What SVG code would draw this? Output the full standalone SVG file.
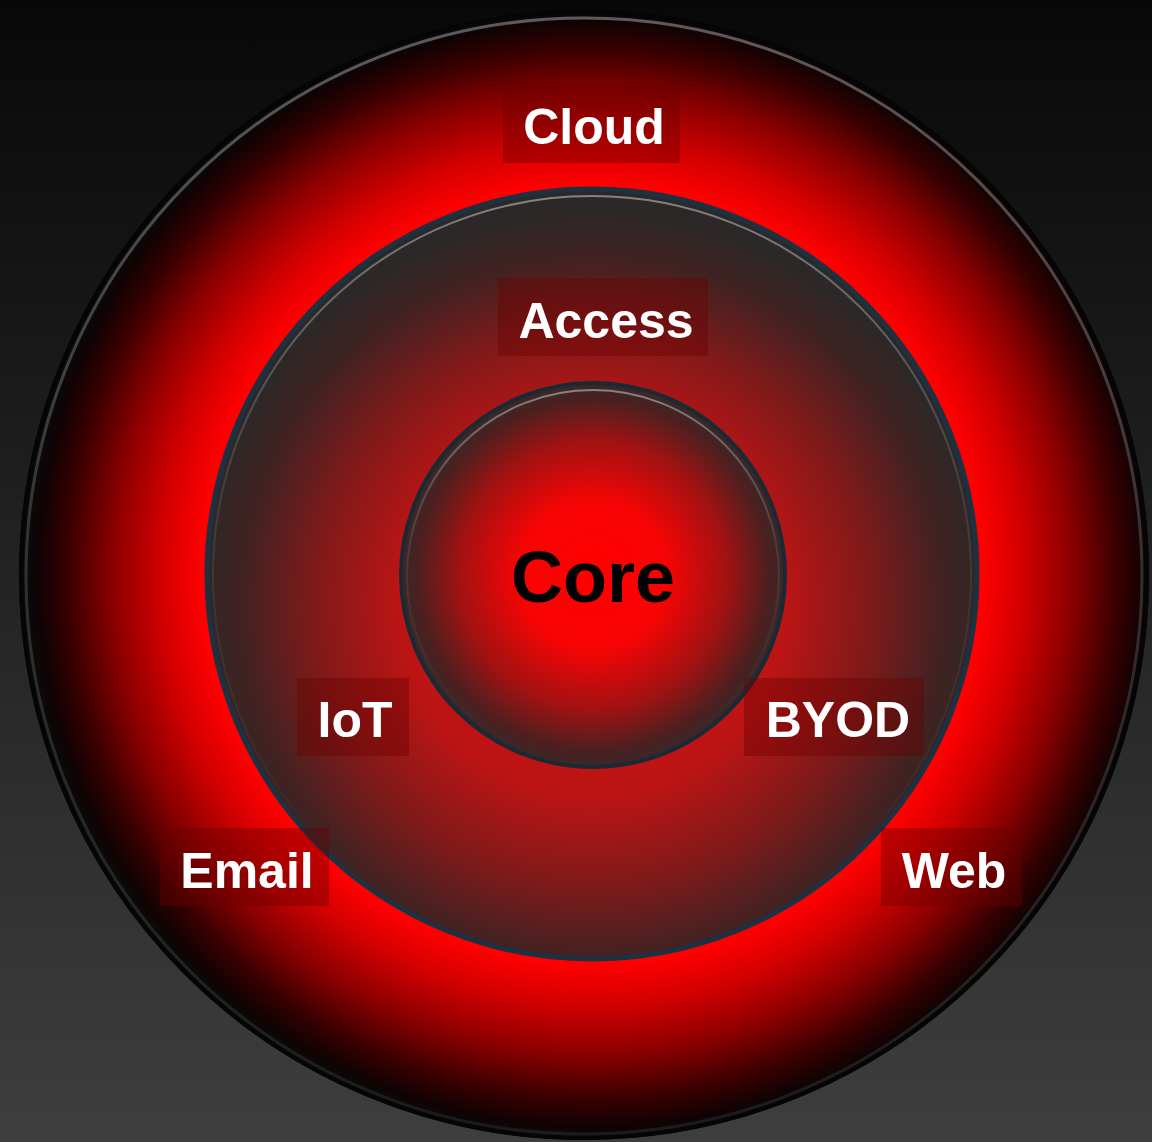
<svg xmlns="http://www.w3.org/2000/svg" width="1152" height="1142" viewBox="0 0 1152 1142">
<defs>
<linearGradient id="bg" x1="0" y1="0" x2="0" y2="1">
<stop offset="0" stop-color="#080808"/>
<stop offset="1" stop-color="#3e3e3e"/>
</linearGradient>
<radialGradient id="outerFill" cx="592" cy="574" r="565" gradientUnits="userSpaceOnUse">
<stop offset="0" stop-color="#ff0000"/>
<stop offset="0.69" stop-color="#ff0000"/>
<stop offset="0.76" stop-color="#d40000"/>
<stop offset="0.85" stop-color="#8a0000"/>
<stop offset="0.93" stop-color="#380000"/>
<stop offset="0.98" stop-color="#100303"/>
<stop offset="1" stop-color="#0a0a0a"/>
</radialGradient>
<linearGradient id="rim" x1="0" y1="0" x2="0" y2="1">
<stop offset="0" stop-color="#707070"/>
<stop offset="0.5" stop-color="#3a3a3a"/>
<stop offset="1" stop-color="#202020"/>
</linearGradient>
<radialGradient id="midFill" cx="592" cy="610" r="400" fx="592" fy="600" gradientUnits="userSpaceOnUse">
<stop offset="0" stop-color="#d01010"/>
<stop offset="0.48" stop-color="#bc1414"/>
<stop offset="0.7" stop-color="#7e1a1a"/>
<stop offset="0.88" stop-color="#402222"/>
<stop offset="1" stop-color="#2c2828"/>
</radialGradient>
<radialGradient id="coreFill" cx="593" cy="575" r="192" gradientUnits="userSpaceOnUse">
<stop offset="0" stop-color="#ff0000"/>
<stop offset="0.38" stop-color="#f80404"/>
<stop offset="0.7" stop-color="#a01212"/>
<stop offset="0.92" stop-color="#4a2020"/>
<stop offset="1" stop-color="#3a2828"/>
</radialGradient>
<linearGradient id="hl" x1="0" y1="0" x2="0" y2="1">
<stop offset="0" stop-color="#9a9a9a" stop-opacity="0.8"/>
<stop offset="0.4" stop-color="#707070" stop-opacity="0.3"/>
<stop offset="1" stop-color="#505050" stop-opacity="0"/>
</linearGradient>
</defs>
<style>
.lbl{font-family:"Liberation Sans",Arial,sans-serif;font-weight:bold;fill:#ffffff;font-size:50px;text-anchor:middle}
.core{font-family:"Liberation Sans",Arial,sans-serif;font-weight:bold;fill:#000000;font-size:72px;text-anchor:middle}
.box{fill:#6a0000;fill-opacity:0.4}
</style>
<rect width="1152" height="1142" fill="url(#bg)"/>
<g id="outer">
<circle cx="584" cy="575" r="565" fill="url(#outerFill)"/>
<circle cx="584" cy="575" r="563" fill="none" stroke="#050505" stroke-width="4"/>
<circle cx="584" cy="576" r="558" fill="none" stroke="url(#rim)" stroke-width="3" opacity="0.8"/>
</g>
<g id="access-ring">
<circle cx="592" cy="574" r="385" fill="url(#midFill)" stroke="#1c3242" stroke-width="5"/>
<circle cx="592" cy="575" r="379" fill="none" stroke="url(#hl)" stroke-width="2"/>
</g>
<g id="core">
<circle cx="593" cy="575" r="192" fill="url(#coreFill)" stroke="#1a2a35" stroke-width="4"/>
<circle cx="593" cy="576" r="186" fill="none" stroke="url(#hl)" stroke-width="2"/>
<text class="core" x="593" y="602">Core</text>
</g>
<g id="cloud">
<rect class="box" x="503" y="85" width="177" height="78"/>
<text class="lbl" x="594" y="144">Cloud</text>
</g>
<g id="access">
<rect class="box" x="498" y="278" width="210" height="78"/>
<text class="lbl" x="606" y="338">Access</text>
</g>
<g id="iot">
<rect class="box" x="297" y="678" width="112" height="78"/>
<text class="lbl" x="355" y="737">IoT</text>
</g>
<g id="byod">
<rect class="box" x="744" y="678" width="180" height="78"/>
<text class="lbl" x="838" y="737">BYOD</text>
</g>
<g id="email">
<rect class="box" x="160" y="828" width="169" height="78"/>
<text class="lbl" x="247" y="888">Email</text>
</g>
<g id="web">
<rect class="box" x="881" y="828" width="141" height="78"/>
<text class="lbl" x="954" y="888">Web</text>
</g>
</svg>
